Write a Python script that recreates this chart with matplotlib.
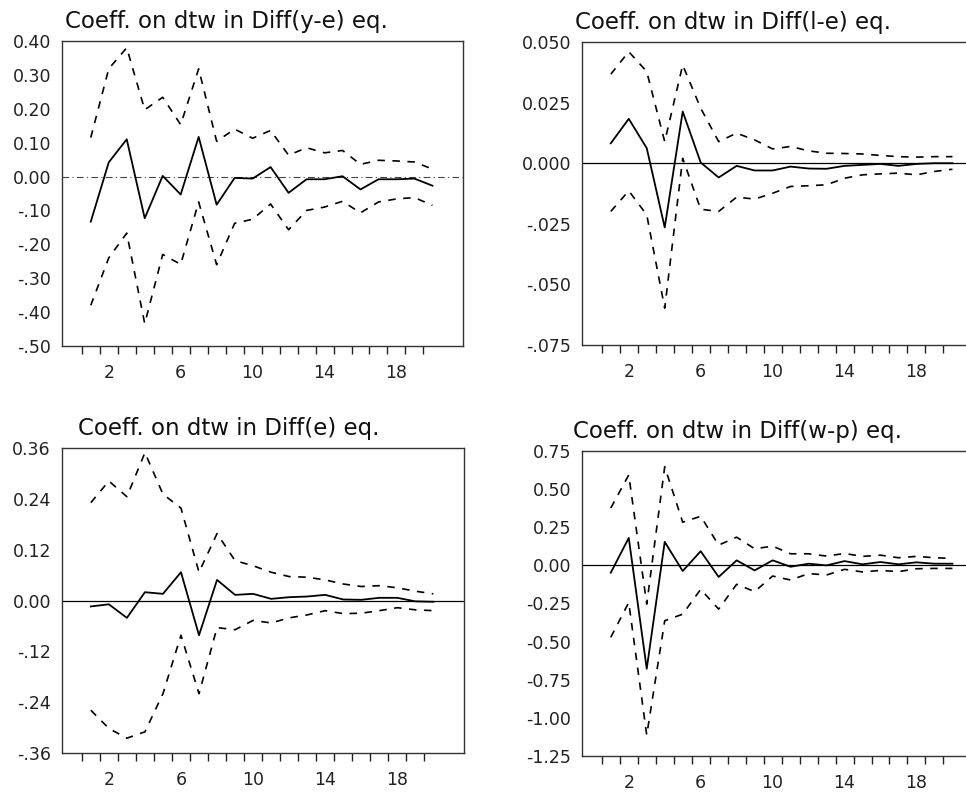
import numpy as np
import matplotlib
matplotlib.use("Agg")
import matplotlib.pyplot as plt

plt.rcParams['font.family'] = ['DejaVu Sans']

steps = np.arange(1, 21)

# Diff(y-e) equation
ye_mid = [-0.133, 0.042, 0.11, -0.123, 0.002, -0.053, 0.117, -0.083, -0.004, -0.006,
          0.028, -0.048, -0.008, -0.008, 0.001, -0.038, -0.008, -0.008, -0.006, -0.027]
ye_up = [0.115, 0.318, 0.38, 0.197, 0.234, 0.153, 0.318, 0.104, 0.14, 0.113,
         0.136, 0.063, 0.085, 0.07, 0.077, 0.036, 0.048, 0.046, 0.043, 0.022]
ye_lo = [-0.38, -0.24, -0.167, -0.434, -0.23, -0.259, -0.075, -0.26, -0.138, -0.126,
         -0.081, -0.157, -0.1, -0.09, -0.073, -0.107, -0.075, -0.066, -0.062, -0.085]

# Diff(l-e) equation
le_mid = [0.0082, 0.0183, 0.0062, -0.0265, 0.0213, 0.0003, -0.0059, -0.0011, -0.003, -0.003,
          -0.0014, -0.0022, -0.0023, -0.0011, -0.0007, -0.0003, -0.0011, -0.0003, 0.0, 0.0]
le_up = [0.0367, 0.046, 0.0378, 0.0089, 0.0405, 0.0227, 0.0089, 0.0124, 0.0096, 0.0059,
         0.0069, 0.0051, 0.0041, 0.004, 0.0038, 0.0032, 0.0027, 0.0025, 0.0027, 0.0027]
le_lo = [-0.0199, -0.0114, -0.0213, -0.0598, 0.002, -0.019, -0.0199, -0.014, -0.0148, -0.0124,
         -0.0096, -0.0093, -0.0089, -0.0062, -0.0048, -0.0044, -0.0041, -0.0048, -0.0034, -0.0025]

# Diff(e) equation
e_mid = [-0.014, -0.009, -0.041, 0.0196, 0.0157, 0.0667, -0.082, 0.0486, 0.0133, 0.0157,
         0.0039, 0.0078, 0.0094, 0.0133, 0.0024, 0.0016, 0.0063, 0.0063, -0.002, -0.003]
e_up = [0.231, 0.282, 0.245, 0.349, 0.251, 0.218, 0.0667, 0.158, 0.094, 0.082,
        0.0667, 0.0565, 0.055, 0.0486, 0.039, 0.033, 0.035, 0.03, 0.022, 0.0157]
e_lo = [-0.259, -0.302, -0.325, -0.31, -0.22, -0.082, -0.22, -0.064, -0.069, -0.047,
        -0.053, -0.041, -0.034, -0.024, -0.031, -0.03, -0.024, -0.017, -0.022, -0.024]

# Diff(w-p) equation
wp_mid = [-0.048, 0.18, -0.678, 0.154, -0.037, 0.093, -0.076, 0.033, -0.033, 0.033,
          -0.009, 0.011, 0.0, 0.028, 0.007, 0.022, 0.007, 0.02, 0.011, 0.011]
wp_up = [0.376, 0.593, -0.254, 0.647, 0.283, 0.322, 0.133, 0.185, 0.109, 0.126,
         0.076, 0.076, 0.061, 0.078, 0.059, 0.067, 0.05, 0.059, 0.05, 0.046]
wp_lo = [-0.472, -0.243, -1.113, -0.363, -0.32, -0.157, -0.287, -0.124, -0.172, -0.07,
         -0.096, -0.054, -0.063, -0.026, -0.043, -0.033, -0.041, -0.022, -0.02, -0.02]

titles = ["Coeff. on dtw in Diff(y-e) eq.", "Coeff. on dtw in Diff(l-e) eq.",
          "Coeff. on dtw in Diff(e) eq.", "Coeff. on dtw in Diff(w-p) eq."]

ye_ticks = [0.4, 0.3, 0.2, 0.1, 0.0, -0.1, -0.2, -0.3, -0.4, -0.5]
ye_labels = ["0.40", "0.30", "0.20", "0.10", "0.00", "-.10", "-.20", "-.30", "-.40", "-.50"]
le_ticks = [0.05, 0.025, 0.0, -0.025, -0.05, -0.075]
le_labels = ["0.050", "0.025", "0.000", "-.025", "-.050", "-.075"]
e_ticks = [0.36, 0.24, 0.12, 0.0, -0.12, -0.24, -0.36]
e_labels = ["0.36", "0.24", "0.12", "0.00", "-.12", "-.24", "-.36"]
wp_ticks = [0.75, 0.5, 0.25, 0.0, -0.25, -0.5, -0.75, -1.0, -1.25]
wp_labels = ["0.75", "0.50", "0.25", "0.00", "-0.25", "-0.50", "-0.75", "-1.00", "-1.25"]

x_labels = [2, 6, 10, 14, 18]

W, H = 966, 792
fig = plt.figure(figsize=(W / 100, H / 100), dpi=100)
fig.patch.set_facecolor('white')

# panel boxes in pixels: left, right, top, bottom, title x offset (px)
panels = [
    (62, 463, 41, 346, 3),
    (582, 983, 42, 345, -7),
    (62, 464, 448, 753, 16),
    (582, 983, 451, 756, -9),
]
series = [
    (ye_mid, ye_up, ye_lo, ye_ticks, ye_labels, (-0.5, 0.4), True),
    (le_mid, le_up, le_lo, le_ticks, le_labels, (-0.075, 0.05), False),
    (e_mid, e_up, e_lo, e_ticks, e_labels, (-0.36, 0.36), False),
    (wp_mid, wp_up, wp_lo, wp_ticks, wp_labels, (-1.25, 0.75), False),
]

for (l, r, t, b, tx), (mid, up, lo, yt, yl, ylim, dashzero), title in zip(panels, series, titles):
    ax = fig.add_axes([l / W, 1 - b / H, (r - l) / W, (b - t) / H])
    ax.set_xlim(-0.6, 21.7)
    ax.set_ylim(*ylim)
    if dashzero:
        ax.axhline(0, color='#444444', lw=0.8, ls=(0, (6, 3, 1, 3)))
    else:
        ax.axhline(0, color='black', lw=0.9)
    ax.plot(steps, mid, color='black', lw=1.3)
    ax.plot(steps, up, color='black', lw=1.2, ls=(0, (4.5, 4.5)))
    ax.plot(steps, lo, color='black', lw=1.2, ls=(0, (4.5, 4.5)))

    ax.set_yticks(yt)
    ax.set_yticklabels(yl)
    ax.set_xticks(x_labels)
    ax.set_xticklabels([str(v) for v in x_labels])
    ax.set_xticks(np.arange(0.5, 20, 1.0), minor=True)
    ax.tick_params(axis='y', length=0, pad=8, labelsize=12.5, colors='#222222')
    ax.tick_params(axis='x', which='major', length=0, pad=13, labelsize=12.5, colors='#222222')
    ax.tick_params(axis='x', which='minor', length=6, width=1, direction='out', color='#222222')
    for s in ax.spines.values():
        s.set_color('#333333')
        s.set_linewidth(1.0)
    ax.text(tx / (r - l), 1.0 + 8 / (b - t), title, transform=ax.transAxes,
            ha='left', va='bottom', fontsize=16.5, color='#111111')

fig.savefig('out.png', dpi=100, facecolor='white')
